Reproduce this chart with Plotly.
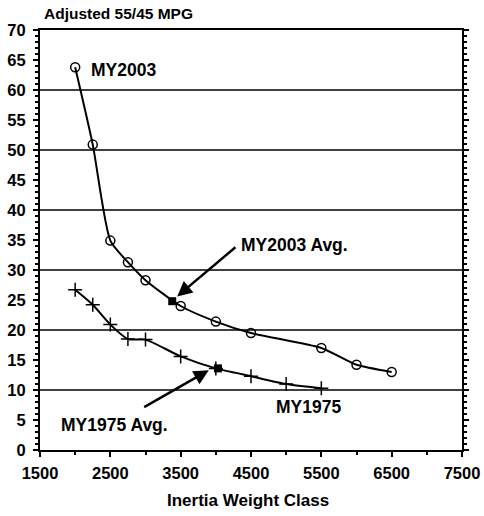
import plotly.graph_objects as go

weights_2003 = [2000, 2250, 2500, 2750, 3000, 3500, 4000, 4500, 5500, 6000, 6500]
mpg_2003 = [63.8, 50.9, 34.9, 31.3, 28.3, 24.0, 21.4, 19.5, 17.0, 14.2, 13.0]
weights_1975 = [2000, 2250, 2500, 2750, 3000, 3500, 4000, 4500, 5000, 5500]
mpg_1975 = [26.7, 24.2, 20.9, 18.5, 18.4, 15.6, 13.6, 12.3, 11.0, 10.3]
avg_2003 = (3380, 24.8)
avg_1975 = (4030, 13.6)
grid_values = [10, 20, 30, 40, 50, 60]

FONT = "Liberation Sans, Arial, sans-serif"

W, H = 484, 516
L, T, R, B = 40, 30, 22, 66
pw, ph = W - L - R, H - T - B

fig = go.Figure()
fig.add_trace(go.Scatter(
    x=weights_2003, y=mpg_2003, mode="lines+markers",
    line=dict(color="black", width=2, shape="spline", smoothing=0.6),
    marker=dict(symbol="circle-open", size=9, color="black", line=dict(width=1.5)),
    showlegend=False))
fig.add_trace(go.Scatter(
    x=weights_1975, y=mpg_1975, mode="lines+markers",
    line=dict(color="black", width=2, shape="spline", smoothing=0.6),
    marker=dict(symbol="cross-thin-open", size=10, color="black", line=dict(width=1.5, color="black")),
    showlegend=False))
fig.add_trace(go.Scatter(
    x=[avg_2003[0], avg_1975[0]], y=[avg_2003[1], avg_1975[1]], mode="markers",
    marker=dict(symbol="square", size=8, color="black"), showlegend=False))

shapes = [dict(type="line", xref="paper", x0=0, x1=1, yref="y", y0=g, y1=g,
               line=dict(color="black", width=1.5), layer="below") for g in grid_values]

ann_font = dict(family=FONT, size=17.5, color="black")


def px_to_paper(xp, yp):
    return (xp - L) / pw, (H - B - yp) / ph


tx, ty = px_to_paper(42, 14)
xx, xy = px_to_paper(248, 500)

annotations = [
    dict(x=2200, y=63.4, xref="x", yref="y", text="<b>MY2003</b>", showarrow=False,
         xanchor="left", yanchor="middle", font=ann_font),
    dict(x=4330, y=34.1, xref="x", yref="y", text="<b>MY2003 Avg.</b>", showarrow=False,
         xanchor="left", yanchor="middle", font=ann_font),
    dict(x=3450, y=25.6, ax=4300, ay=34.0, xref="x", yref="y", axref="x", ayref="y",
         text="", showarrow=True, arrowhead=2, arrowsize=1.2, arrowwidth=2.5, arrowcolor="black"),
    dict(x=2560, y=4.2, xref="x", yref="y", text="<b>MY1975 Avg.</b>", showarrow=False,
         xanchor="center", yanchor="middle", font=ann_font),
    dict(x=3900, y=13.3, ax=2960, ay=7.0, xref="x", yref="y", axref="x", ayref="y",
         text="", showarrow=True, arrowhead=2, arrowsize=1.2, arrowwidth=2.5, arrowcolor="black"),
    dict(x=4830, y=7.2, xref="x", yref="y", text="<b>MY1975</b>", showarrow=False,
         xanchor="left", yanchor="middle", font=ann_font),
    dict(x=tx, y=ty, xref="paper", yref="paper", text="<b>Adjusted 55/45 MPG</b>",
         showarrow=False, xanchor="left", yanchor="middle",
         font=dict(family=FONT, size=15.5, color="black")),
    dict(x=xx, y=xy, xref="paper", yref="paper", text="<b>Inertia Weight Class</b>",
         showarrow=False, xanchor="center", yanchor="middle",
         font=dict(family=FONT, size=17, color="black")),
]

fig.update_layout(
    width=W, height=H,
    margin=dict(l=L, r=R, t=T, b=B, pad=0),
    paper_bgcolor="white", plot_bgcolor="white",
    font=dict(family=FONT, size=16, color="black"),
    shapes=shapes, annotations=annotations,
    xaxis=dict(range=[1500, 7500], tick0=1500, dtick=1000, showgrid=False, zeroline=False,
               showline=True, linecolor="black", linewidth=2, mirror=True, automargin=False,
               ticks="outside", ticklen=5, tickcolor="black", tickwidth=1.5,
               ticklabelstandoff=2,
               minor=dict(dtick=500, ticks="outside", ticklen=3, tickcolor="black"),
               tickfont=dict(family=FONT, size=16.5, color="black", weight="bold")),
    yaxis=dict(range=[0, 70], tick0=0, dtick=5, showgrid=False, zeroline=False,
               showline=True, linecolor="black", linewidth=2, mirror="allticks", automargin=False,
               ticks="outside", ticklen=5, tickcolor="black", tickwidth=1.5,
               ticklabelstandoff=4,
               minor=dict(dtick=1, ticks="outside", ticklen=3, tickcolor="black"),
               tickfont=dict(family=FONT, size=16.5, color="black", weight="bold")),
)

fig.write_html(
    "out.html",
    config={"displayModeBar": False},
    post_script="document.body.style.margin='0';document.body.style.overflow='hidden';",
)
